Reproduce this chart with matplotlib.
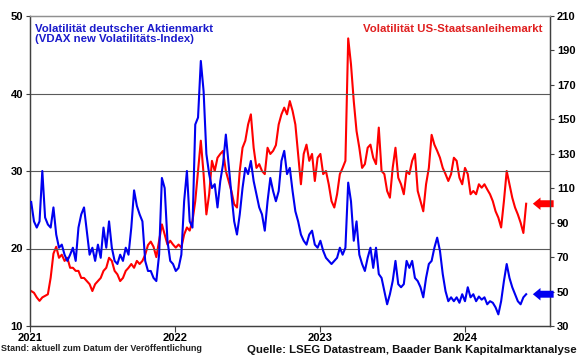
import numpy as np
import pandas as pd
import matplotlib
matplotlib.use('Agg')
import matplotlib.pyplot as plt
import matplotlib.dates as mdates

plt.rcParams['font.family'] = ['Liberation Sans', 'DejaVu Sans']

# weekly observations, starting first Monday of 2021
start = "2021-01-04"

vdax = [26.0, 23.5, 22.7, 23.5, 30.0, 24.0, 23.1, 22.7, 25.3, 21.8,
        20.1, 20.5, 19.2, 18.4, 19.2, 20.1, 18.4, 22.7, 24.4, 25.3,
        22.3, 19.2, 20.1, 18.4, 20.5, 18.8, 22.7, 20.1, 23.5, 20.1,
        18.4, 18.0, 19.2, 18.4, 20.1, 19.2, 22.7, 27.5, 25.5, 24.4,
        23.5, 18.4, 17.1, 17.1, 16.2, 15.8, 19.2, 29.1, 27.8, 21.0,
        18.4, 18.0, 17.1, 17.5, 19.2, 26.1, 30.0, 23.5, 22.7, 36.0,
        36.9, 44.2, 40.3, 32.2, 29.6, 27.8, 28.3, 25.3, 28.7, 30.9,
        34.7, 30.9, 27.0, 23.5, 21.8, 24.4, 27.8, 30.4, 29.6, 31.3,
        28.7, 27.0, 25.3, 24.4, 22.3, 26.1, 29.1, 27.4, 26.1, 27.4,
        31.3, 32.6, 29.6, 30.4, 27.4, 24.8, 23.5, 21.8, 21.0, 20.5,
        21.8, 22.3, 20.5, 20.1, 21.0, 19.7, 18.8, 18.4, 18.0, 18.4,
        18.8, 20.1, 19.2, 20.1, 28.5, 26.1, 21.0, 23.5, 19.2, 18.0,
        17.1, 18.8, 20.1, 17.5, 20.1, 16.7, 16.2, 14.5, 12.8, 14.1,
        15.8, 18.4, 15.4, 15.0, 15.4, 18.4, 17.5, 18.4, 16.2, 15.8,
        15.0, 13.7, 16.2, 18.0, 18.4, 20.1, 21.4, 19.7, 16.7, 14.5,
        13.2, 13.7, 13.2, 13.7, 13.0, 14.1, 13.2, 15.0, 13.7, 14.1,
        13.2, 13.8, 13.4, 13.7, 12.8, 13.2, 13.0, 12.4, 11.5, 13.2,
        15.8, 18.0, 16.2, 15.0, 14.1, 13.2, 12.8, 13.7, 14.1]

move = [50.3, 49.3, 46.6, 44.6, 46.6, 47.5, 48.4, 58.0, 72.0, 76.0,
        69.6, 71.4, 67.8, 69.6, 63.8, 63.8, 62.0, 62.0, 57.9, 57.9,
        56.1, 54.3, 50.3, 54.3, 56.1, 57.9, 62.0, 63.8, 69.6, 67.8,
        62.0, 60.0, 56.1, 57.9, 62.0, 63.8, 66.0, 63.8, 67.8, 66.0,
        67.8, 71.4, 77.0, 79.0, 76.0, 70.0, 79.5, 89.0, 83.1, 77.3,
        79.5, 77.3, 75.5, 77.3, 75.5, 83.1, 87.2, 85.4, 91.0, 102.5,
        120.0, 137.6, 118.2, 94.8, 106.5, 125.9, 120.0, 127.7, 129.9, 131.7,
        120.0, 114.2, 108.4, 100.7, 98.8, 120.0, 133.5, 137.6, 147.0, 152.9,
        133.5, 121.8, 124.0, 120.0, 118.2, 133.5, 129.9, 131.7, 135.0, 147.0,
        152.9, 156.8, 152.9, 160.6, 154.9, 147.0, 129.9, 112.3, 129.9, 135.3,
        125.9, 129.9, 114.2, 127.7, 129.9, 118.2, 120.0, 112.3, 102.5, 98.8,
        106.5, 118.2, 121.8, 125.9, 197.0, 182.0, 160.6, 143.2, 133.5, 121.8,
        124.0, 133.5, 135.3, 127.7, 124.0, 145.2, 120.0, 118.2, 108.4, 104.5,
        121.8, 133.5, 116.1, 112.3, 106.5, 120.0, 118.2, 125.9, 129.9, 108.4,
        102.5, 96.6, 112.3, 121.8, 141.0, 135.3, 131.7, 127.7, 121.8, 118.2,
        114.2, 118.2, 127.7, 125.9, 116.1, 112.3, 121.8, 118.2, 106.5, 108.4,
        106.5, 112.3, 110.3, 112.3, 109.3, 106.5, 102.5, 96.6, 92.9, 87.2,
        102.5, 120.0, 112.3, 104.5, 98.8, 94.8, 90.0, 84.0, 101.0]

years = ["2021", "2022", "2023", "2024"]

dates = pd.date_range(start, periods=len(vdax), freq="7D")

BLUE = "#0000f0"
RED = "#ff0000"
GRID = "#5a5a5a"

fig = plt.figure(figsize=(5.8, 3.59), dpi=100)
ax = fig.add_axes([30/580, 1-326/359, 520/580, 310/359])
ax2 = ax.twinx()

ax.plot(dates, vdax, color=BLUE, lw=1.5, zorder=3)
ax2.plot(dates, move, color=RED, lw=1.5, zorder=2)
ax.set_zorder(ax2.get_zorder() + 1)
ax.patch.set_visible(False)

ax.set_ylim(10, 50)
ax.set_yticks(range(10, 51, 10))
ax2.set_ylim(30, 210)
ax2.set_yticks(range(30, 211, 20))
ax.set_xlim(pd.Timestamp("2021-01-01"), pd.Timestamp("2024-08-02"))
ax.set_xticks([pd.Timestamp(y + "-01-01") for y in years])
ax.set_xticklabels(years)

for y in (20, 30, 40):
    ax.axhline(y, color=GRID, lw=0.8, zorder=0)

for a in (ax, ax2):
    for sp in a.spines.values():
        sp.set_color("#404040")
        sp.set_linewidth(0.9)
    a.spines["top"].set_color("#909090")
ax.tick_params(axis="y", direction="out", length=3, color="#404040",
               labelsize=8, pad=2)
ax.tick_params(axis="x", direction="out", length=4, color="#404040",
               labelsize=8, pad=1)
ax2.tick_params(axis="y", direction="out", length=3, color="#404040",
                labelsize=8, pad=2)
for lab in ax.get_xticklabels() + ax.get_yticklabels() + ax2.get_yticklabels():
    lab.set_fontweight("bold")

ax.text(0.01, 0.975, "Volatilität deutscher Aktienmarkt\n(VDAX new Volatilitäts-Index)",
        transform=ax.transAxes, ha="left", va="top", color="#1a1acc",
        fontsize=8.2, fontweight="bold", linespacing=1.05)
ax.text(0.985, 0.975, "Volatilität US-Staatsanleihemarkt",
        transform=ax.transAxes, ha="right", va="top", color="#e02020",
        fontsize=8.2, fontweight="bold")

# arrows marking the latest values
arrow = dict(arrowstyle="simple,head_length=0.55,head_width=0.9,tail_width=0.5",
             lw=0, shrinkA=0, shrinkB=0)
ax2.annotate("", xy=(0.967, move[-1]), xytext=(1.007, move[-1]),
             xycoords=("axes fraction", "data"), textcoords=("axes fraction", "data"),
             arrowprops=dict(arrow, color=RED), annotation_clip=False, zorder=5)
ax.annotate("", xy=(0.967, vdax[-1]), xytext=(1.007, vdax[-1]),
            xycoords=("axes fraction", "data"), textcoords=("axes fraction", "data"),
            arrowprops=dict(arrow, color=BLUE), annotation_clip=False, zorder=5)

fig.text(0.002, 0.016, "Stand: aktuell zum Datum der Veröffentlichung",
         ha="left", va="bottom", fontsize=6.45, fontweight="bold", color="#222222")
fig.text(0.995, 0.010, "Quelle: LSEG Datastream, Baader Bank Kapitalmarktanalyse",
         ha="right", va="bottom", fontsize=8.2, fontweight="bold", color="#111111")

fig.savefig("out.png", dpi=100)
